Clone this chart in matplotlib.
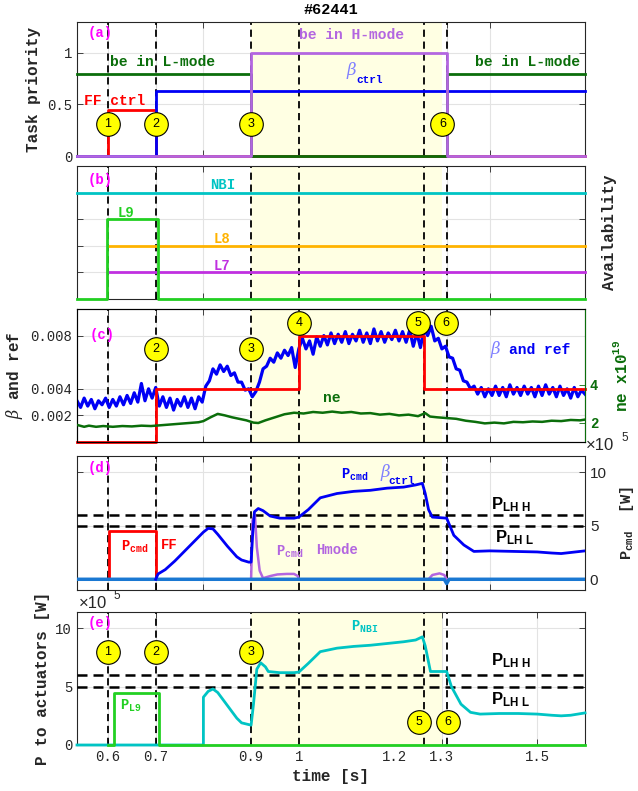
import numpy as np
import matplotlib
matplotlib.use('Agg')
import matplotlib.pyplot as plt

plt.rcParams.update({
    'mathtext.fontset': 'custom',
    'mathtext.rm': 'Liberation Mono:bold',
    'mathtext.bf': 'Liberation Mono:bold',
    'mathtext.sf': 'Liberation Sans:bold',
    'mathtext.it': 'DejaVu Serif:italic',
    'font.family': 'Liberation Mono',
    'axes.linewidth': 0.8,
})
MONO = 'Liberation Mono'
SANS = 'Liberation Sans'

# ---------------- data ----------------
xlim = (0.535, 1.6)
events = [0.6, 0.7, 0.9, 1.0, 1.262, 1.31]
hmode_span = (0.9, 1.3)

# (a) task priority (step, post)
lmode_t = [0.535, 0.9, 1.31, 1.6];  lmode_v = [0.8, 0.0, 0.8, 0.8]
hmode_t = [0.535, 0.9, 1.31, 1.6];  hmode_v = [0.0, 1.0, 0.0, 0.0]
bctrl_t = [0.535, 0.7, 1.6];        bctrl_v = [0.0, 0.63, 0.63]
ffctrl_t = [0.535, 0.6, 0.7, 1.6];  ffctrl_v = [0.0, 0.45, 0.0, 0.0]

# (b) availability
nbi_av_t = [0.535, 1.6];            nbi_av_v = [4, 4]
l9_av_t = [0.535, 0.597, 0.705, 1.6]; l9_av_v = [0, 3, 0, 0]
l8_av_t = [0.6, 1.6];               l8_av_v = [2, 2]
l7_av_t = [0.6, 1.6];               l7_av_v = [1, 1]

# (c) beta (x1e-4), reference and density
beta_t = np.linspace(0.535, 1.6, 143)
beta_e4 = [31, 26, 33, 27, 32, 25, 31, 28, 33, 26,
           32, 27, 34, 28, 35, 29, 37, 30, 44, 31,
           40, 33, 41, 27, 34, 26, 33, 24, 32, 27,
           34, 26, 33, 25, 34, 30, 42, 46, 55, 51,
           58, 53, 57, 50, 52, 45, 45, 39, 40, 34,
           38, 45, 55, 57, 63, 60, 67, 63, 69, 65,
           71, 56, 70, 78, 70, 76, 66, 79, 72, 80,
           73, 82, 74, 81, 75, 83, 74, 81, 76, 84,
           75, 82, 74, 85, 76, 83, 75, 82, 77, 84,
           76, 83, 75, 84, 72, 82, 71, 85, 80, 87,
           76, 78, 70, 72, 64, 63, 55, 54, 46, 45,
           40, 42, 36, 41, 34, 40, 35, 42, 35, 41,
           34, 43, 36, 41, 35, 42, 36, 41, 34, 42,
           35, 43, 36, 41, 34, 42, 35, 40, 33, 41,
           34, 39, 36]
ref_t = [0.535, 0.7, 1.0, 1.262, 1.6]
ref_v = [0.0, 0.004, 0.008, 0.004, 0.004]
ne_t = [0.535, 0.55, 0.56, 0.575, 0.59, 0.61, 0.63, 0.65, 0.67, 0.69,
        0.71, 0.73, 0.75, 0.77, 0.79, 0.80, 0.815, 0.83, 0.845, 0.86,
        0.875, 0.89, 0.905, 0.915, 0.93, 0.95, 0.97, 0.99, 1.01, 1.03,
        1.05, 1.07, 1.09, 1.11, 1.13, 1.15, 1.17, 1.19, 1.21, 1.23,
        1.25, 1.265, 1.275, 1.29, 1.31, 1.33, 1.35, 1.37, 1.39, 1.41,
        1.43, 1.45, 1.47, 1.49, 1.51, 1.53, 1.55, 1.57, 1.59, 1.60]
ne_v = [1.90, 1.80, 1.86, 1.80, 1.84, 1.80, 1.84, 1.82, 1.86, 1.84,
        1.88, 1.92, 1.96, 2.00, 2.04, 2.10, 2.30, 2.48, 2.40, 2.30,
        2.22, 2.14, 2.02, 2.00, 2.14, 2.30, 2.46, 2.54, 2.50, 2.58,
        2.54, 2.60, 2.54, 2.58, 2.50, 2.52, 2.44, 2.48, 2.40, 2.44,
        2.36, 2.52, 2.34, 2.30, 2.26, 2.22, 2.12, 2.06, 1.98, 2.02,
        1.98, 2.06, 2.04, 2.08, 2.06, 2.12, 2.10, 2.16, 2.14, 2.18]

# (d) commanded powers (x1e5 W)
pbeta_t = [0.7, 0.705, 0.72, 0.74, 0.76, 0.78, 0.80, 0.81, 0.82, 0.83,
           0.85, 0.87, 0.88, 0.895, 0.9, 0.903, 0.907, 0.915, 0.925, 0.94,
           0.96, 0.99, 1.0, 1.02, 1.045, 1.08, 1.115, 1.15, 1.185, 1.22,
           1.245, 1.259, 1.265, 1.272, 1.28, 1.31, 1.325, 1.346, 1.367, 1.40,
           1.45, 1.50, 1.53, 1.55, 1.58, 1.60]
pbeta_v = [0.0, 0.5, 0.9, 1.7, 2.6, 3.5, 4.4, 4.75, 4.7, 4.2,
           3.1, 2.1, 1.8, 1.6, 1.6, 4.0, 6.3, 6.6, 6.4, 5.9,
           5.7, 5.7, 5.8, 6.5, 7.6, 8.0, 8.2, 8.3, 8.5, 8.6,
           8.8, 8.95, 8.0, 6.5, 5.8, 5.7, 4.1, 3.2, 2.6, 2.65,
           2.6, 2.55, 2.45, 2.4, 2.55, 2.65]
phm_t = [0.9, 0.903, 0.908, 0.912, 0.918, 0.925, 0.94, 0.955, 0.975,
         0.99, 0.998, 1.0, 1.272, 1.28, 1.295, 1.305, 1.31]
phm_v = [0, 5.5, 6.0, 3.0, 0.8, 0.1, 0.3, 0.45, 0.5,
         0.5, 0.3, 0, 0, 0.4, 0.55, 0.4, 0]
pff_t = [0.603, 0.603, 0.7, 0.7]; pff_v = [0.0, 4.5, 4.5, 0.0]
pzero_t = [0.535, 1.305, 1.31, 1.315, 1.6]; pzero_v = [0, 0, -0.4, 0, 0]
plh_levels = [6.0, 5.0]

# (e) actuator powers (x1e5 W)
pnbi_t = [0.535, 0.8, 0.8, 0.81, 0.82, 0.83, 0.85, 0.87, 0.88, 0.9,
          0.905, 0.912, 0.92, 0.93, 0.936, 0.96, 0.99, 1.0, 1.02, 1.045,
          1.08, 1.115, 1.15, 1.185, 1.22, 1.245, 1.259, 1.265, 1.27, 1.276,
          1.31, 1.32, 1.34, 1.36, 1.38, 1.42, 1.46, 1.50, 1.53, 1.55, 1.57, 1.60]
pnbi_v = [0, 0, 4.1, 4.6, 4.8, 4.5, 3.4, 2.3, 1.9, 1.7,
          3.5, 6.5, 7.05, 6.7, 6.3, 6.2, 6.2, 6.25, 7.0, 8.0,
          8.3, 8.45, 8.55, 8.7, 8.85, 9.0, 9.27, 8.5, 7.5, 6.3,
          6.3, 5.0, 3.5, 2.8, 2.65, 2.7, 2.7, 2.65, 2.55, 2.5, 2.55, 2.75]
pl9_t = [0.6, 0.612, 0.706, 1.6]; pl9_v = [0.0, 4.5, 0.0, 0.0]

# ---------------- colours ----------------
C_DG = '#0b6e0b'; C_PU = '#b366e0'; C_BL = '#0000f5'; C_RD = '#ff0000'
C_CY = '#00c4c4'; C_LG = '#22d022'; C_OR = '#ffb300'; C_L7 = '#c030e0'
C_MG = '#ff00ff'; C_LB = '#8080ff'; C_ZB = '#1a78d2'; C_SH = '#ffffe3'

# ---------------- figure ----------------
W, H = 638, 791
fig = plt.figure(figsize=(W / 100, H / 100), dpi=100)

def pos(top, bot):
    return [77 / W, 1 - bot / H, 508 / W, (bot - top) / H]

def tx(px):
    return 0.6 + (px - 108) / 476.0

def style(ax, xt, xl=None):
    ax.set_xlim(*xlim)
    ax.set_xticks(xt)
    if xl is None:
        ax.set_xticklabels([])
    else:
        ax.set_xticklabels(xl)
    ax.set_axisbelow(True)
    ax.grid(True, color='#e3e3e3', lw=0.8)
    ax.axvspan(*hmode_span, color=C_SH, zorder=1, lw=0)
    for e in events:
        ax.axvline(e, color='k', lw=1.3, dashes=(4, 2.6), zorder=2.5)
    ax.tick_params(direction='in', length=4, width=0.6, top=True, right=True,
                   colors='#262626', labelsize=10, labelcolor='#262626')
    for s in ax.spines.values():
        s.set_color('#262626')

def circ(ax, x, y, lab):
    ax.plot(x, y, 'o', ms=17, mfc='#ffff00', mec='k', mew=0.8, zorder=8, clip_on=False)
    ax.text(x, y, lab, ha='center', va='center', fontsize=9, family=SANS, zorder=9)

xt_top = [0.6, 0.7, 0.8, 0.9, 1.0, 1.262, 1.31, 1.4]

# ---- (a) ----
ax = fig.add_axes(pos(22, 156))
style(ax, xt_top)
ax.set_ylim(0, 1.3)
ax.set_yticks([0, 0.5, 1]); ax.set_yticklabels(['0', '0.5', '1'])
kw = dict(where='post', lw=2, zorder=4, clip_on=False)
ax.step(ffctrl_t, ffctrl_v, color=C_RD, **kw)
ax.step(bctrl_t, bctrl_v, color=C_BL, **kw)
ax.step(lmode_t, lmode_v, color=C_DG, **kw)
ax.step(hmode_t, hmode_v, color=C_PU, **kw)
ax.set_ylabel('Task priority', fontsize=11.5, fontweight='bold', color='#262626')
ax.text(tx(88), 1.19, '(a)', color=C_MG, fontsize=10, fontweight='bold', va='center')
ax.text(tx(110), 0.91, 'be in L-mode', color=C_DG, fontsize=10.5, fontweight='bold', va='center')
ax.text(tx(474), 0.91, 'be in L-mode', color=C_DG, fontsize=10.5, fontweight='bold', va='center')
ax.text(tx(84), 0.53, 'FF ctrl', color=C_RD, fontsize=10.5, fontweight='bold', va='center')
ax.text(tx(299), 1.172, 'be in H-mode', color=C_PU, fontsize=10.5, fontweight='bold', va='center')
ax.text(tx(345), 0.83, r'$\beta$', color=C_LB, fontsize=12, va='center')
ax.text(tx(356), 0.735, 'ctrl', color=C_BL, fontsize=8, fontweight='bold', va='center')
for t, lab in zip([0.6, 0.7, 0.9, 1.301], ['1', '2', '3', '6']):
    circ(ax, t, 0.31, lab)
fig.text(331 / W, 1 - 10 / H, '#62441', ha='center', va='center', fontsize=11,
         fontweight='bold', family=MONO)

# ---- (b) ----
ax = fig.add_axes(pos(166, 299))
style(ax, xt_top)
ax.set_ylim(0, 5)
ax.set_yticks([1, 2, 3, 4]); ax.set_yticklabels([])
kw = dict(lw=2, zorder=4, clip_on=False)
ax.plot(nbi_av_t, nbi_av_v, color=C_CY, **kw)
ax.plot(l8_av_t, l8_av_v, color=C_OR, **kw)
ax.plot(l7_av_t, l7_av_v, color=C_L7, **kw)
ax.step(l9_av_t, l9_av_v, where='post', color=C_LG, **kw)
ax.yaxis.set_label_position('right')
ax.set_ylabel('Availability', fontsize=11.5, fontweight='bold', color='#262626', labelpad=12)
ax.text(tx(88), 4.47, '(b)', color=C_MG, fontsize=10, fontweight='bold', va='center')
ax.text(tx(222), 4.3, 'NBI', color=C_CY, fontsize=10, fontweight='bold', va='center', ha='center')
ax.text(tx(118), 3.25, 'L9', color=C_LG, fontsize=10, fontweight='bold', va='center')
ax.text(tx(222), 2.26, 'L8', color=C_OR, fontsize=10, fontweight='bold', va='center', ha='center')
ax.text(tx(222), 1.24, 'L7', color=C_L7, fontsize=10, fontweight='bold', va='center', ha='center')

# ---- (c) ----
ax = fig.add_axes(pos(309, 442))
style(ax, xt_top)
ax.tick_params(right=False)
ax.set_ylim(0, 0.01)
ax.set_yticks([0.002, 0.004, 0.008]); ax.set_yticklabels(['0.002', '0.004', '0.008'])
ax.plot(beta_t, np.array(beta_e4) * 1e-4, color=C_BL, lw=2.3, zorder=4)
ax.step(ref_t, ref_v, where='post', color=C_RD, lw=2, zorder=5, clip_on=False)
ax.set_ylabel(r'$\beta$ and ref', fontsize=11.5, fontweight='bold', color='#262626')
ax.text(tx(90), 0.00805, '(c)', color=C_MG, fontsize=10, fontweight='bold', va='center')
ax.text(tx(489), 0.00695, r'$\beta$', color=C_LB, fontsize=12, va='center')
ax.text(tx(508), 0.0069, 'and ref', color=C_BL, fontsize=10.5, fontweight='bold', va='center')
for t, yv, lab in zip([0.7, 0.9, 1.0, 1.249, 1.309],
                      [0.0070, 0.0070, 0.00895, 0.00895, 0.00895],
                      ['2', '3', '4', '5', '6']):
    circ(ax, t, yv, lab)
ax2 = ax.twinx()
ax2.set_xlim(*xlim)
ax2.set_ylim(1, 8)
ax2.set_yticks([2, 4])
ax2.plot(ne_t, ne_v, color=C_DG, lw=1.8, zorder=4)
ax2.tick_params(direction='in', length=4, width=0.6, colors=C_DG, labelsize=10, labelcolor=C_DG)
for lbl in ax2.get_yticklabels():
    lbl.set_fontweight('bold')
ax2.spines['right'].set_color(C_DG)
ax2.set_ylabel(r'ne x10$^{19}$', fontsize=11.5, fontweight='bold', color=C_DG, labelpad=10)
ax2.text(tx(323), 3.33, 'ne', color=C_DG, fontsize=10.5, fontweight='bold', va='center')

# ---- (d) ----
ax = fig.add_axes(pos(456, 590))
style(ax, xt_top)
ax.set_ylim(-1.0, 11.5)
ax.set_yticks([0, 5, 10])
ax.tick_params(axis='y', labelleft=False, labelright=True, labelfontfamily=SANS, labelsize=11)
for lv in plh_levels:
    ax.axhline(lv, color='k', lw=1.8, dashes=(4, 2.4), zorder=3)
ax.plot(phm_t, phm_v, color=C_PU, lw=1.8, zorder=4)
ax.plot(pff_t, pff_v, color=C_RD, lw=2, zorder=4)
ax.plot(pzero_t, pzero_v, color=C_ZB, lw=2.5, zorder=4.5)
ax.plot(pbeta_t, pbeta_v, color=C_BL, lw=2, zorder=5)
ax.yaxis.set_label_position('right')
ax.set_ylabel(r'P$_{\rm cmd}$  [W]', fontsize=11, fontweight='bold', color='#262626', labelpad=8)
ax.text(tx(88), 10.35, '(d)', color=C_MG, fontsize=10, fontweight='bold', va='center')
ax.text(tx(121), 3.07, r'P$_{\rm cmd}$', color=C_RD, fontsize=10, fontweight='bold', va='center')
ax.text(tx(161), 3.2, 'FF', color=C_RD, fontsize=10, fontweight='bold', va='center')
ax.text(tx(341), 9.7, r'P$_{\rm cmd}$', color=C_BL, fontsize=10, fontweight='bold', va='center')
ax.text(tx(379), 10.0, r'$\beta$', color=C_LB, fontsize=12, va='center')
ax.text(tx(388), 9.15, 'ctrl', color=C_BL, fontsize=8, fontweight='bold', va='center')
ax.text(tx(276), 2.6, r'P$_{\rm cmd}$', color=C_PU, fontsize=10, fontweight='bold', va='center')
ax.text(tx(316), 2.75, 'Hmode', color=C_PU, fontsize=10, fontweight='bold', va='center')
ax.text(tx(490), 7.0, r'$\mathsf{P_{LH\ H}}$', color='k', fontsize=12, va='center')
ax.text(tx(494), 3.85, r'$\mathsf{P_{LH\ L}}$', color='k', fontsize=12, va='center')
fig.text(586 / W, 1 - 446 / H, '×10', family=SANS, fontsize=12, color='#262626', va='center')
fig.text(621 / W, 1 - 438 / H, '5', family=SANS, fontsize=8.5, color='#262626', va='center')

# ---- (e) ----
ax = fig.add_axes(pos(612, 745))
xt_e = [0.6, 0.7, 0.9, 1.0, 1.2, 1.3, 1.5]
style(ax, xt_e, ['0.6', '0.7', '0.9', '1', '1.2', '1.3', '1.5'])
ax.set_ylim(0, 11.4)
ax.set_yticks([0, 5, 10]); ax.set_yticklabels(['0', '5', '10'])
for lv in plh_levels:
    ax.axhline(lv, color='k', lw=1.8, dashes=(4, 2.4), zorder=3)
ax.plot(pnbi_t, pnbi_v, color=C_CY, lw=2, zorder=4, clip_on=False)
ax.plot(pl9_t, pl9_v, color=C_LG, lw=2, zorder=5, drawstyle='steps-post', clip_on=False)
ax.set_ylabel('P to actuators [W]', fontsize=11.5, fontweight='bold', color='#262626')
ax.set_xlabel('time [s]', fontsize=11.5, fontweight='bold', color='#262626')
ax.text(tx(88), 10.45, '(e)', color=C_MG, fontsize=10, fontweight='bold', va='center')
ax.text(tx(350), 10.1, r'P$_{\rm NBI}$', color=C_CY, fontsize=10, fontweight='bold', va='center')
ax.text(tx(120), 3.35, r'P$_{\rm L9}$', color=C_LG, fontsize=10, fontweight='bold', va='center')
ax.text(tx(490), 7.2, r'$\mathsf{P_{LH\ H}}$', color='k', fontsize=12, va='center')
ax.text(tx(490), 3.85, r'$\mathsf{P_{LH\ L}}$', color='k', fontsize=12, va='center')
for t, yv, lab in zip([0.6, 0.7, 0.9, 1.251, 1.312], [8, 8, 8, 2, 2],
                      ['1', '2', '3', '5', '6']):
    circ(ax, t, yv, lab)
fig.text(79 / W, 1 - 603 / H, '×10', family=SANS, fontsize=12, color='#262626', va='center')
fig.text(113 / W, 1 - 596 / H, '5', family=SANS, fontsize=8.5, color='#262626', va='center')

fig.savefig('out.png', dpi=100)
